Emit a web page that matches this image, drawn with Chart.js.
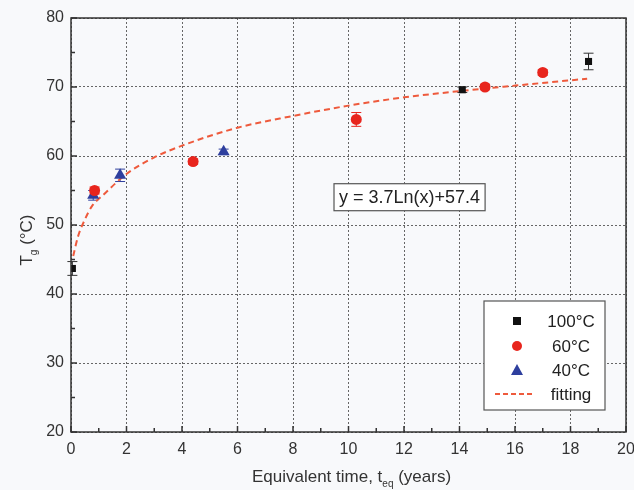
<!DOCTYPE html>
<html>
<head>
<meta charset="utf-8">
<script src="https://cdn.jsdelivr.net/npm/chart.js@4.4.0/dist/chart.umd.min.js"></script>
<style>
  html, body { margin: 0; padding: 0; background: #f8f9fb; }
  #wrap { width: 634px; height: 490px; }
</style>
</head>
<body>
<div id="wrap"><canvas id="tg-chart" width="634" height="490"></canvas></div>
<script>
// values
var x100 = [0.05, 14.1, 18.65];
var y100 = [43.7, 69.6, 73.7];
var e100 = [1.0, 0.4, 1.2];

var x60 = [0.85, 4.4, 10.28, 14.92, 17.0];
var y60 = [55.0, 59.2, 65.3, 70.0, 72.1];
var e60 = [0.5, 0.4, 1.0, 0.4, 0.4];

var x40 = [0.8, 1.77, 5.5];
var y40 = [54.3, 57.2, 60.6];
var e40 = [0.7, 0.9, 0.4];

// fitted curve as drawn in the figure
var xFit = [0.08, 0.25, 0.5, 0.75, 1.2, 2, 3, 4, 6, 8, 10, 12, 14, 16, 18.6];
var yFit = [45.5, 48.3, 50.8, 52.7, 54.5, 57.4, 59.8, 61.5, 64.1, 65.8, 67.3, 68.5, 69.4, 70.2, 71.2];

var xTicks = [0, 2, 4, 6, 8, 10, 12, 14, 16, 18, 20];
var yTicks = [20, 30, 40, 50, 60, 70, 80];
var equation = "y = 3.7Ln(x)+57.4";

var FONT = "'Liberation Sans', Arial, sans-serif";
var RED = "#e8251d";
var BLUE = "#2e3f9e";
var BLACK = "#111111";
var FITC = "#ee5a3c";

function pts(xs, ys) {
  var out = [];
  for (var i = 0; i < xs.length; i++) out.push({ x: xs[i], y: ys[i] });
  return out;
}

var errSets = [
  { xs: x100, ys: y100, es: e100, color: "#333" },
  { xs: x60, ys: y60, es: e60, color: RED },
  { xs: x40, ys: y40, es: e40, color: BLUE }
];

var extras = {
  id: "extras",
  beforeDatasetsDraw: function (chart) {
    var ctx = chart.ctx, xs = chart.scales.x, ys = chart.scales.y;
    ctx.save();
    ctx.lineWidth = 1;
    errSets.forEach(function (s) {
      ctx.strokeStyle = s.color;
      for (var i = 0; i < s.xs.length; i++) {
        var px = xs.getPixelForValue(s.xs[i]);
        var top = ys.getPixelForValue(s.ys[i] + s.es[i]);
        var bot = ys.getPixelForValue(s.ys[i] - s.es[i]);
        ctx.beginPath();
        ctx.moveTo(px, top); ctx.lineTo(px, bot);
        ctx.moveTo(px - 5, top); ctx.lineTo(px + 5, top);
        ctx.moveTo(px - 5, bot); ctx.lineTo(px + 5, bot);
        ctx.stroke();
      }
    });
    ctx.restore();
  },
  afterDraw: function (chart) {
    var ctx = chart.ctx, a = chart.chartArea;
    var xs = chart.scales.x, ys = chart.scales.y;
    ctx.save();

    // frame
    ctx.strokeStyle = "#333";
    ctx.lineWidth = 1.5;
    ctx.strokeRect(a.left, a.top, a.right - a.left, a.bottom - a.top);

    // inward ticks
    ctx.lineWidth = 1.5;
    ctx.beginPath();
    for (var v = 0; v <= 20; v++) {
      var px = xs.getPixelForValue(v);
      var len = v % 2 === 0 ? 6 : 4;
      ctx.moveTo(px, a.bottom); ctx.lineTo(px, a.bottom - len);
    }
    for (var w = 20; w <= 80; w += 5) {
      var py = ys.getPixelForValue(w);
      var ln = w % 10 === 0 ? 6 : 4;
      ctx.moveTo(a.left, py); ctx.lineTo(a.left + ln, py);
    }
    ctx.stroke();

    // equation box
    var ex = xs.getPixelForValue(12.2), ey = ys.getPixelForValue(54.1);
    ctx.font = "18px " + FONT;
    var tw = ctx.measureText(equation).width;
    ctx.fillStyle = "#ffffff";
    ctx.fillRect(ex - tw / 2 - 5, ey - 13, tw + 10, 27);
    ctx.strokeStyle = "#555";
    ctx.lineWidth = 1.2;
    ctx.strokeRect(ex - tw / 2 - 5, ey - 13, tw + 10, 27);
    ctx.fillStyle = "#222";
    ctx.textAlign = "center";
    ctx.textBaseline = "middle";
    ctx.fillText(equation, ex, ey + 1);

    // legend
    var lx = 484, ly = 301, lw = 121, lh = 109;
    ctx.fillStyle = "#ffffff";
    ctx.fillRect(lx, ly, lw, lh);
    ctx.strokeStyle = "#555";
    ctx.strokeRect(lx, ly, lw, lh);
    var rows = [
      { label: "100\u00B0C", kind: "sq", y: 321 },
      { label: "60\u00B0C", kind: "ci", y: 346 },
      { label: "40\u00B0C", kind: "tr", y: 370 },
      { label: "fitting", kind: "ln", y: 394 }
    ];
    ctx.font = "17px " + FONT;
    rows.forEach(function (r) {
      var sx = 517;
      if (r.kind === "sq") {
        ctx.fillStyle = BLACK; ctx.fillRect(sx - 4, r.y - 4, 8, 8);
      } else if (r.kind === "ci") {
        ctx.fillStyle = RED; ctx.beginPath(); ctx.arc(sx, r.y, 5, 0, Math.PI * 2); ctx.fill();
      } else if (r.kind === "tr") {
        ctx.fillStyle = BLUE; ctx.beginPath();
        ctx.moveTo(sx, r.y - 6); ctx.lineTo(sx + 6, r.y + 5); ctx.lineTo(sx - 6, r.y + 5);
        ctx.closePath(); ctx.fill();
      } else {
        ctx.strokeStyle = FITC; ctx.lineWidth = 2; ctx.setLineDash([5, 3]);
        ctx.beginPath(); ctx.moveTo(495, r.y); ctx.lineTo(535, r.y); ctx.stroke();
        ctx.setLineDash([]);
      }
      ctx.fillStyle = "#222";
      ctx.textAlign = "center";
      ctx.fillText(r.label, 571, r.y + 1);
    });

    // axis titles with subscripts
    ctx.fillStyle = "#333";
    ctx.textBaseline = "alphabetic";
    ctx.textAlign = "left";
    var big = "17px " + FONT, small = "10px " + FONT;
    var parts = [["Equivalent time, t", big, 0], ["eq", small, 5], [" (years)", big, 0]];
    var total = 0;
    parts.forEach(function (p) { ctx.font = p[1]; total += ctx.measureText(p[0]).width; });
    var cx = (a.left + a.right) / 2 + 3 - total / 2;
    parts.forEach(function (p) {
      ctx.font = p[1]; ctx.fillText(p[0], cx, 482 + p[2]); cx += ctx.measureText(p[0]).width;
    });

    ctx.translate(32, 240);
    ctx.rotate(-Math.PI / 2);
    var yparts = [["T", big, 0], ["g", small, 5], [" (\u00B0C)", big, 0]];
    total = 0;
    yparts.forEach(function (p) { ctx.font = p[1]; total += ctx.measureText(p[0]).width; });
    cx = -total / 2;
    yparts.forEach(function (p) {
      ctx.font = p[1]; ctx.fillText(p[0], cx, 0 + p[2]); cx += ctx.measureText(p[0]).width;
    });
    ctx.restore();
  }
};

new Chart(document.getElementById("tg-chart"), {
  type: "scatter",
  data: {
    datasets: [
      {
        label: "100\u00B0C",
        data: pts(x100, y100),
        pointStyle: "rect",
        pointRadius: 5,
        backgroundColor: BLACK,
        borderColor: BLACK,
        borderWidth: 0
      },
      {
        label: "60\u00B0C",
        data: pts(x60, y60),
        pointStyle: "circle",
        pointRadius: 5.5,
        backgroundColor: RED,
        borderColor: RED,
        borderWidth: 0
      },
      {
        label: "40\u00B0C",
        data: pts(x40, y40),
        pointStyle: "triangle",
        pointRadius: 7,
        backgroundColor: BLUE,
        borderColor: BLUE,
        borderWidth: 0
      },
      {
        label: "fitting",
        data: pts(xFit, yFit),
        showLine: true,
        pointRadius: 0,
        borderColor: FITC,
        borderWidth: 2,
        borderDash: [6, 4],
        cubicInterpolationMode: "monotone"
      }
    ]
  },
  options: {
    responsive: false,
    animation: false,
    layout: { padding: { top: 18, right: 8, left: 0, bottom: 0 } },
    plugins: { legend: { display: false }, tooltip: { enabled: false } },
    scales: {
      x: {
        type: "linear",
        min: 0, max: 20,
        afterBuildTicks: function (s) { s.ticks = xTicks.map(function (v) { return { value: v }; }); },
        afterFit: function (s) { s.height = 58; s.paddingLeft = 0; s.paddingRight = 0; },
        grid: { color: "#666", lineWidth: 1, drawTicks: false },
        border: { display: false, dash: [2, 2] },
        ticks: { color: "#333", font: { family: FONT, size: 16 }, padding: 8, maxRotation: 0 }
      },
      y: {
        min: 20, max: 80,
        afterBuildTicks: function (s) { s.ticks = yTicks.map(function (v) { return { value: v }; }); },
        afterFit: function (s) { s.width = 71; s.paddingTop = 0; s.paddingBottom = 0; },
        grid: { color: "#666", lineWidth: 1, drawTicks: false },
        border: { display: false, dash: [2, 2] },
        ticks: { color: "#333", font: { family: FONT, size: 16 }, padding: 7 }
      }
    }
  },
  plugins: [extras]
});
</script>
</body>
</html>
